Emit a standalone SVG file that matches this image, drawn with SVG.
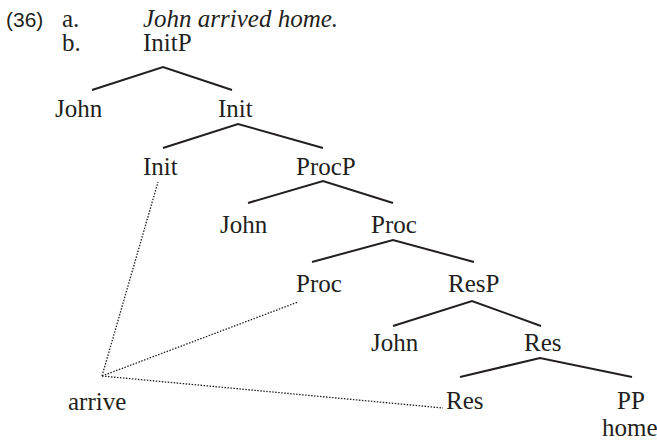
<svg xmlns="http://www.w3.org/2000/svg" width="657" height="440" viewBox="0 0 657 440">
<style>
.t{font-family:'Liberation Serif','DejaVu Serif',serif;font-size:25px;fill:#231f20}
.it{font-style:italic}
.num{font-family:'Liberation Sans','DejaVu Sans',sans-serif;font-size:21px;fill:#231f20}
.br{stroke:#231f20;stroke-width:2;fill:none}
.dot{stroke:#231f20;stroke-width:1.3;stroke-dasharray:1.5 1.5;fill:none}
</style>
<rect width="657" height="440" fill="#fff"/>
<g id="header">
<text class="num" x="6" y="27">(36)</text>
<text class="t" x="62" y="27" font-family="Liberation Serif, serif">a.</text>
<text class="t it" x="143" y="27" font-family="Liberation Serif, serif">John arrived home.</text>
<text class="t" x="62" y="51" font-family="Liberation Serif, serif">b.</text>
</g>
<g id="connectors">
<polyline class="br" points="92,90 163,67 232,90"/>
<polyline class="br" points="163,148 238,124 323,148"/>
<polyline class="br" points="248,203 323,181 393,203"/>
<polyline class="br" points="312,262 393,240 474,262"/>
<polyline class="br" points="393,326 472,301 541,326"/>
<polyline class="br" points="460,377 540,358 632,377"/>
<line class="dot" x1="102" y1="376" x2="158" y2="182"/>
<line class="dot" x1="102" y1="376" x2="298" y2="302"/>
<line class="dot" x1="102" y1="376" x2="443" y2="408"/>
</g>
<g class="t" font-family="Liberation Serif, serif">
<g id="n-initp"><text x="143" y="51">InitP</text></g>
<g id="n-john1"><text x="55" y="117">John</text></g>
<g id="n-init1"><text x="218" y="117">Init</text></g>
<g id="n-init2"><text x="143" y="175">Init</text></g>
<g id="n-procp"><text x="296" y="175">ProcP</text></g>
<g id="n-john2"><text x="220" y="233">John</text></g>
<g id="n-proc1"><text x="371" y="233">Proc</text></g>
<g id="n-proc2"><text x="296" y="292">Proc</text></g>
<g id="n-resp"><text x="448" y="292">ResP</text></g>
<g id="n-john3"><text x="371" y="351">John</text></g>
<g id="n-res1"><text x="524" y="351">Res</text></g>
<g id="n-res2"><text x="446" y="409">Res</text></g>
<g id="n-pp"><text x="617" y="409">PP</text><text x="602" y="436">home</text></g>
<g id="n-arrive"><text x="68" y="410">arrive</text></g>
</g>
</svg>
